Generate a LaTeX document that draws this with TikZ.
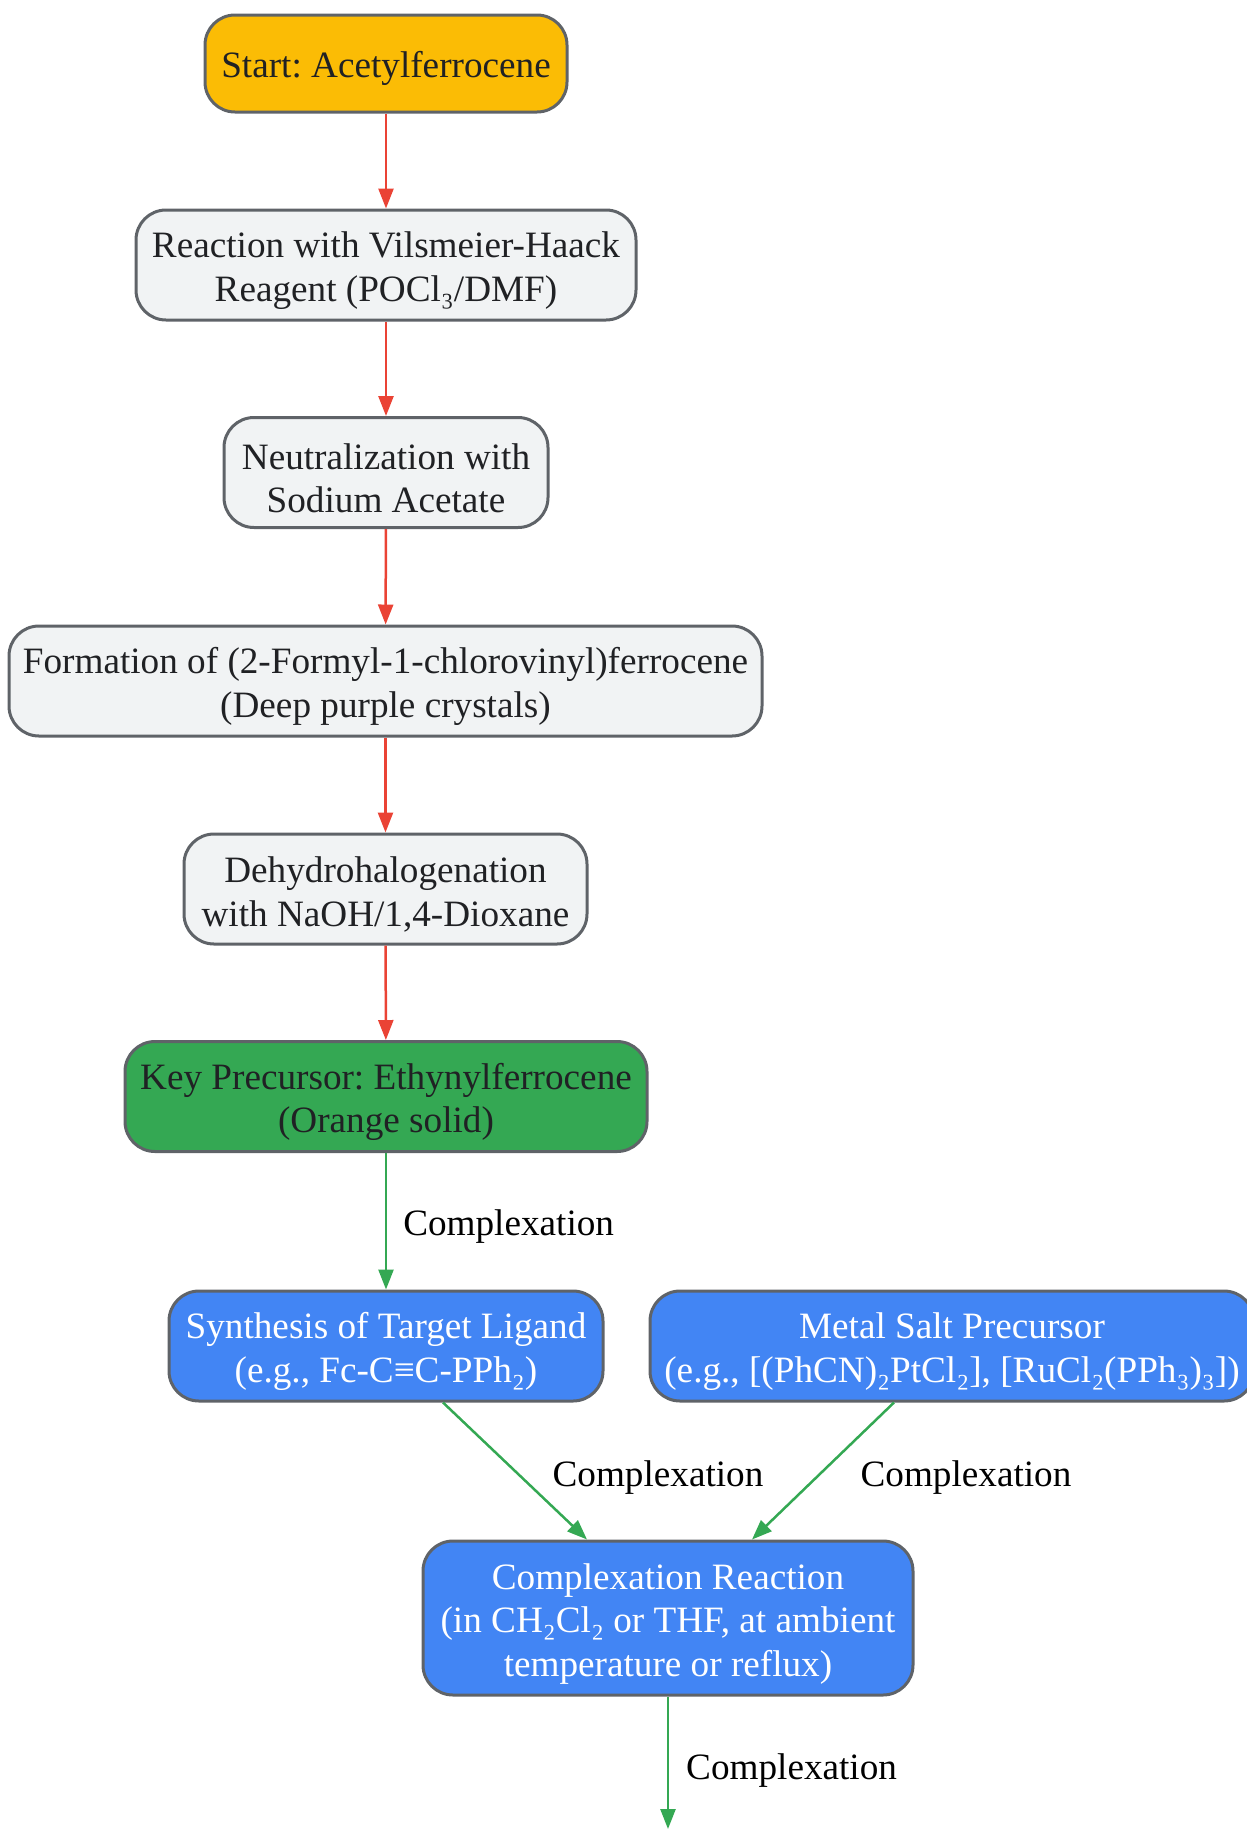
\documentclass[tikz,border=0pt]{standalone}
\usepackage{fontspec}
\setmainfont{Liberation Serif}
\usetikzlibrary{arrows.meta}
\frenchspacing
\definecolor{bordergray}{HTML}{5F6368}
\definecolor{fillgray}{HTML}{F1F3F4}
\definecolor{gyellow}{HTML}{FBBC05}
\definecolor{ggreen}{HTML}{34A853}
\definecolor{gblue}{HTML}{4285F4}
\definecolor{gred}{HTML}{EA4335}
\definecolor{darktext}{HTML}{202124}
\newcommand{\mystrut}{\rule{0pt}{37pt}}
\tikzset{
  box/.style={draw=bordergray, line width=3pt, rounded corners=30pt, align=center,
    inner sep=0pt, font=\fontsize{37.2}{43.5}\selectfont\frenchspacing, text=darktext},
  graybox/.style={box, fill=fillgray},
  yellowbox/.style={box, fill=gyellow},
  greenbox/.style={box, fill=ggreen},
  bluebox/.style={box, fill=gblue, text=white},
  redarrow/.style={draw=gred, line width=2.5pt, -{Triangle[length=20pt,width=15pt]}},
  greenarrow/.style={draw=ggreen, line width=2.5pt, -{Triangle[length=20pt,width=15pt]}},
  edgelabel/.style={font=\fontsize{37.2}{43.5}\selectfont, text=black, inner sep=0pt}
}
\begin{document}
\begin{tikzpicture}[x=1pt,y=-1pt]
\useasboundingbox (0,0) rectangle (1247,1829);
\clip (0,0) rectangle (1247,1829);

\node[yellowbox, minimum width=362pt, minimum height=97pt] (n1) at (386,63.5) {\mystrut Start: Acetylferrocene};
\node[graybox, minimum width=500pt, minimum height=110pt] (n2) at (386,265) {\mystrut Reaction with Vilsmeier-Haack\\Reagent (POCl₃/DMF)};
\node[graybox, minimum width=324pt, minimum height=110pt] (n3) at (386,472.5) {\mystrut Neutralization with\\Sodium Acetate};
\node[graybox, minimum width=753pt, minimum height=110pt] (n4) at (385.5,681) {\mystrut Formation of (2-Formyl-1-chlorovinyl)ferrocene\\(Deep purple crystals)};
\node[graybox, minimum width=403pt, minimum height=110pt] (n5) at (385.5,889) {\mystrut Dehydrohalogenation\\with NaOH/1,4-Dioxane};
\node[greenbox, minimum width=522pt, minimum height=110pt] (n6) at (386,1096.5) {\mystrut Key Precursor: Ethynylferrocene\\(Orange solid)};
\node[bluebox, minimum width=434pt, minimum height=110pt] (n7) at (386,1346) {\mystrut Synthesis of Target Ligand\\(e.g., Fc-C≡C-PPh₂)};
\node[bluebox, minimum width=604pt, minimum height=110pt] (n8) at (952,1346) {\mystrut Metal Salt Precursor\\(e.g., [(PhCN)₂PtCl₂], [RuCl₂(PPh₃)₃])};
\node[bluebox, minimum width=490pt, minimum height=154pt] (n9) at (668,1618) {\mystrut Complexation Reaction\\(in CH₂Cl₂ or THF, at ambient\\temperature or reflux)};
\coordinate (end) at (668,1829);

\draw[redarrow] (n1) -- (n2);
\draw[redarrow] (n2) -- (n3);
\draw[redarrow] (n3) -- (n4);
\draw[redarrow] (n4) -- (n5);
\draw[redarrow] (n5) -- (n6);
\draw[greenarrow] (n6) -- node[edgelabel, right=16pt, yshift=-5pt] (l1) {Complexation} (n7);
\draw[greenarrow] ([xshift=57pt]n7.south) -- ([xshift=-81pt]n9.north);
\draw[greenarrow] ([xshift=-58pt]n8.south) -- ([xshift=84pt]n9.north);
\draw[greenarrow] (n9) -- (end);

\node[edgelabel] (l2) at (658,1478) {Complexation};
\node[edgelabel] (l3) at (966,1478) {Complexation};
\node[edgelabel, anchor=west] (l4) at (686,1771) {Complexation};
\end{tikzpicture}
\end{document}
